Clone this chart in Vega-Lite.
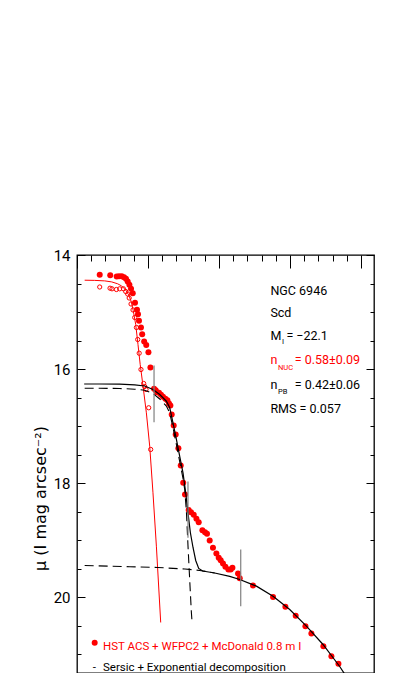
{
  "$schema": "https://vega.github.io/schema/vega-lite/v6.json",
  "width": 297,
  "height": 418,
  "autosize": {"type": "none"},
  "padding": {"left": 77, "top": 255, "right": 41, "bottom": 0},
  "background": "white",
  "config": {
    "view": {"stroke": "black", "strokeWidth": 1.3},
    "axis": {"grid": false, "domain": false, "tickColor": "black", "tickWidth": 1, "labelFlush": false, "labelOverlap": false}
  },
  "datasets": {
    "filled": [
      {"r":0.320,"mu":14.347},{"r":0.468,"mu":14.354},{"r":0.559,"mu":14.377},{"r":0.592,"mu":14.372},{"r":0.630,"mu":14.372},{"r":0.662,"mu":14.389},{"r":0.690,"mu":14.417},{"r":0.714,"mu":14.465},{"r":0.738,"mu":14.523},{"r":0.761,"mu":14.593},{"r":0.785,"mu":14.670},{"r":0.817,"mu":14.838},{"r":0.845,"mu":14.961},{"r":0.859,"mu":15.038},{"r":0.873,"mu":15.154},{"r":0.901,"mu":15.271},{"r":0.918,"mu":15.389},{"r":0.946,"mu":15.517},{"r":0.975,"mu":15.578},{"r":1.006,"mu":15.704},{"r":1.034,"mu":15.973},{"r":1.085,"mu":16.346},{"r":1.108,"mu":16.371},{"r":1.127,"mu":16.406},{"r":1.155,"mu":16.416},{"r":1.183,"mu":16.451},{"r":1.211,"mu":16.486},{"r":1.245,"mu":16.521},{"r":1.273,"mu":16.546},{"r":1.296,"mu":16.604},{"r":1.315,"mu":16.639},{"r":1.334,"mu":16.797},{"r":1.362,"mu":16.990},{"r":1.390,"mu":17.147},{"r":1.428,"mu":17.388},{"r":1.461,"mu":17.691},{"r":1.496,"mu":17.994},{"r":1.521,"mu":18.200},{"r":1.573,"mu":18.471},{"r":1.606,"mu":18.510},{"r":1.644,"mu":18.556},{"r":1.682,"mu":18.626},{"r":1.714,"mu":18.685},{"r":1.766,"mu":18.826},{"r":1.803,"mu":18.861},{"r":1.831,"mu":18.889},{"r":1.869,"mu":19.006},{"r":1.915,"mu":19.134},{"r":1.963,"mu":19.234},{"r":1.996,"mu":19.310},{"r":2.024,"mu":19.352},{"r":2.056,"mu":19.409},{"r":2.090,"mu":19.467},{"r":2.132,"mu":19.515},{"r":2.165,"mu":19.515},{"r":2.189,"mu":19.485},{"r":2.268,"mu":19.585},{"r":2.292,"mu":19.667},{"r":2.479,"mu":19.795},{"r":2.761,"mu":19.997},{"r":2.935,"mu":20.169},{"r":3.080,"mu":20.327},{"r":3.217,"mu":20.509},{"r":3.301,"mu":20.637},{"r":3.470,"mu":20.860},{"r":3.583,"mu":21.035},{"r":3.682,"mu":21.168}
    ],
    "open": [
      {"r":0.320,"mu":14.561},{"r":0.465,"mu":14.582},{"r":0.493,"mu":14.593},{"r":0.555,"mu":14.605},{"r":0.601,"mu":14.593},{"r":0.654,"mu":14.593},{"r":0.686,"mu":14.640},{"r":0.714,"mu":14.684},{"r":0.735,"mu":14.754},{"r":0.761,"mu":14.859},{"r":0.789,"mu":14.964},{"r":0.813,"mu":15.096},{"r":0.837,"mu":15.271},{"r":0.855,"mu":15.482},{"r":0.876,"mu":15.722},{"r":0.901,"mu":16.008},{"r":0.939,"mu":16.253},{"r":0.954,"mu":16.306},{"r":0.972,"mu":16.358},{"r":1.010,"mu":16.679},{"r":1.038,"mu":17.410}
    ],
    "nuc": [
      {"r":0.108,"mu":14.442},{"r":0.249,"mu":14.445},{"r":0.390,"mu":14.454},{"r":0.489,"mu":14.472},{"r":0.573,"mu":14.505},{"r":0.630,"mu":14.544},{"r":0.686,"mu":14.614},{"r":0.728,"mu":14.701},{"r":0.763,"mu":14.815},{"r":0.792,"mu":14.973},{"r":0.827,"mu":15.219},{"r":0.859,"mu":15.569},{"r":0.890,"mu":15.920},{"r":0.930,"mu":16.301},{"r":0.977,"mu":16.767},{"r":1.024,"mu":17.353},{"r":1.070,"mu":18.170},{"r":1.118,"mu":19.106},{"r":1.179,"mu":20.444}
    ],
    "total": [
      {"r":0.101,"mu":16.262},{"r":0.320,"mu":16.262},{"r":0.601,"mu":16.265},{"r":0.813,"mu":16.279},{"r":0.954,"mu":16.297},{"r":1.070,"mu":16.358},{"r":1.165,"mu":16.446},{"r":1.259,"mu":16.564},{"r":1.306,"mu":16.679},{"r":1.352,"mu":16.942},{"r":1.400,"mu":17.235},{"r":1.446,"mu":17.528},{"r":1.493,"mu":17.819},{"r":1.531,"mu":18.170},{"r":1.563,"mu":18.520},{"r":1.597,"mu":18.871},{"r":1.634,"mu":19.129},{"r":1.672,"mu":19.357},{"r":1.714,"mu":19.497},{"r":1.770,"mu":19.541},{"r":1.939,"mu":19.576},{"r":2.151,"mu":19.637},{"r":2.292,"mu":19.690},{"r":2.527,"mu":19.807},{"r":2.761,"mu":19.983},{"r":2.996,"mu":20.216},{"r":3.231,"mu":20.509},{"r":3.465,"mu":20.830},{"r":3.700,"mu":21.216},{"r":3.839,"mu":21.479}
    ],
    "bulge": [
      {"r":0.108,"mu":16.336},{"r":0.320,"mu":16.336},{"r":0.601,"mu":16.341},{"r":0.813,"mu":16.353},{"r":0.954,"mu":16.372},{"r":1.070,"mu":16.429},{"r":1.165,"mu":16.525},{"r":1.259,"mu":16.648},{"r":1.306,"mu":16.770},{"r":1.352,"mu":17.025},{"r":1.400,"mu":17.323},{"r":1.446,"mu":17.621},{"r":1.493,"mu":17.919},{"r":1.517,"mu":18.112},{"r":1.541,"mu":18.498},{"r":1.563,"mu":19.094},{"r":1.587,"mu":19.690},{"r":1.611,"mu":20.269},{"r":1.620,"mu":20.427}
    ],
    "disk": [
      {"r":0.108,"mu":19.445},{"r":0.432,"mu":19.455},{"r":0.742,"mu":19.466},{"r":1.137,"mu":19.480},{"r":1.518,"mu":19.506},{"r":1.730,"mu":19.532},{"r":1.939,"mu":19.576}
    ],
    "bars": [
      {"r":1.085,"mu":15.938,"mu2":16.932},{"r":1.563,"mu":17.970,"mu2":18.960},{"r":2.306,"mu":19.164,"mu2":20.158}
    ],
    "txtBlack": [
      {"r":2.724,"mu":14.693,"t":"NGC 6946"},{"r":2.724,"mu":15.084,"t":"Scd"},{"r":2.724,"mu":15.482,"t":"M"},{"r":2.949,"mu":15.482,"t":"= −22.1"},{"r":2.724,"mu":16.346,"t":"n"},{"r":3.066,"mu":16.346,"t":"= 0.42±0.06"},{"r":2.724,"mu":16.770,"t":"RMS = 0.057"}
    ],
    "subBlack": [
      {"r":2.887,"mu":15.552,"t":"I"},{"r":2.831,"mu":16.446,"t":"PB"}
    ],
    "txtRed": [
      {"r":2.724,"mu":15.903,"t":"n"},{"r":3.066,"mu":15.903,"t":"= 0.58±0.09"}
    ],
    "subRed": [
      {"r":2.831,"mu":16.008,"t":"NUC"}
    ],
    "legRed": [{"r":0.366,"mu":20.930,"t":"HST ACS + WFPC2 + McDonald 0.8 m I"}],
    "legDot": [{"r":0.249,"mu":20.800}],
    "legBlack": [{"r":0.221,"mu":21.298,"t":"-"},{"r":0.366,"mu":21.298,"t":"Sersic + Exponential decomposition"}]
  },
  "resolve": {"axis": {"x": "independent", "y": "independent"}},
  "layer": [
    {
      "data": {"name": "filled"},
      "mark": {"type": "point", "filled": true, "shape": "circle", "size": 36, "color": "#ff0000", "opacity": 1},
      "encoding": {
        "x": {"field": "r", "type": "quantitative", "scale": {"domain": [0, 4.183], "nice": false, "zero": false},
          "axis": {"orient": "top", "values": [0, 1, 2, 3, 4], "tickSize": -13, "labels": false, "title": null}},
        "y": {"field": "mu", "type": "quantitative", "scale": {"domain": [14, 21.33], "reverse": true, "nice": false, "zero": false},
          "axis": {"orient": "left", "values": [14, 16, 18, 20], "ticks": false, "tickSize": 0, "labelPadding": 7,
            "labelFont": "Roboto", "labelFontSize": 15, "labelColor": "black", "labelBaseline": "middle",
            "title": "μ  (I  mag  arcsec⁻²)", "titleFont": "DejaVu Sans", "titleFontSize": 16, "titleFontWeight": "normal",
            "titleColor": "black", "titleX": -32, "titleY": 243, "titleBaseline": "alphabetic", "titleAngle": 270, "titleAlign": "center"}}
      }
    },
    {
      "data": {"name": "open"},
      "mark": {"type": "point", "filled": false, "shape": "circle", "size": 18, "strokeWidth": 1, "color": "#ff0000", "opacity": 1},
      "encoding": {
        "x": {"field": "r", "type": "quantitative",
          "axis": {"orient": "top", "values": [0.2, 0.4, 0.6, 0.8, 1.2, 1.4, 1.6, 1.8, 2.2, 2.4, 2.6, 2.8, 3.2, 3.4, 3.6, 3.8], "tickSize": -6, "labels": false, "title": null}},
        "y": {"field": "mu", "type": "quantitative",
          "axis": {"orient": "left", "values": [14, 16, 18, 20], "tickSize": -8, "labels": false, "title": null}}
      }
    },
    {
      "data": {"name": "nuc"},
      "mark": {"type": "line", "color": "#ff0000", "strokeWidth": 1, "clip": true},
      "encoding": {
        "x": {"field": "r", "type": "quantitative", "axis": null},
        "y": {"field": "mu", "type": "quantitative",
          "axis": {"orient": "left", "values": [14.5, 15, 15.5, 16.5, 17, 17.5, 18.5, 19, 19.5, 20.5, 21], "tickSize": -4, "labels": false, "title": null}}
      }
    },
    {
      "data": {"name": "total"},
      "mark": {"type": "line", "color": "black", "strokeWidth": 1.2, "clip": true},
      "encoding": {
        "x": {"field": "r", "type": "quantitative", "axis": null},
        "y": {"field": "mu", "type": "quantitative",
          "axis": {"orient": "right", "values": [14, 16, 18, 20], "tickSize": -8, "labels": false, "title": null}}
      }
    },
    {
      "data": {"name": "bulge"},
      "mark": {"type": "line", "color": "black", "strokeWidth": 1.1, "strokeDash": [9, 5], "clip": true},
      "encoding": {
        "x": {"field": "r", "type": "quantitative", "axis": null},
        "y": {"field": "mu", "type": "quantitative",
          "axis": {"orient": "right", "values": [14.5, 15, 15.5, 16.5, 17, 17.5, 18.5, 19, 19.5, 20.5, 21], "tickSize": -4, "labels": false, "title": null}}
      }
    },
    {
      "data": {"name": "disk"},
      "mark": {"type": "line", "color": "black", "strokeWidth": 1.1, "strokeDash": [9, 5], "clip": true},
      "encoding": {
        "x": {"field": "r", "type": "quantitative", "axis": null},
        "y": {"field": "mu", "type": "quantitative", "axis": null}
      }
    },
    {
      "data": {"name": "bars"},
      "mark": {"type": "rule", "color": "#808080", "strokeWidth": 1.2},
      "encoding": {
        "x": {"field": "r", "type": "quantitative", "axis": null},
        "y": {"field": "mu", "type": "quantitative", "axis": null},
        "y2": {"field": "mu2"}
      }
    },
    {
      "data": {"name": "txtBlack"},
      "mark": {"type": "text", "align": "left", "baseline": "alphabetic", "font": "Roboto", "fontSize": 12.5, "color": "black"},
      "encoding": {
        "x": {"field": "r", "type": "quantitative", "axis": null},
        "y": {"field": "mu", "type": "quantitative", "axis": null},
        "text": {"field": "t"}
      }
    },
    {
      "data": {"name": "subBlack"},
      "mark": {"type": "text", "align": "left", "baseline": "alphabetic", "font": "Roboto", "fontSize": 7.5, "color": "black"},
      "encoding": {
        "x": {"field": "r", "type": "quantitative", "axis": null},
        "y": {"field": "mu", "type": "quantitative", "axis": null},
        "text": {"field": "t"}
      }
    },
    {
      "data": {"name": "txtRed"},
      "mark": {"type": "text", "align": "left", "baseline": "alphabetic", "font": "Roboto", "fontSize": 12.5, "color": "#ff0000"},
      "encoding": {
        "x": {"field": "r", "type": "quantitative", "axis": null},
        "y": {"field": "mu", "type": "quantitative", "axis": null},
        "text": {"field": "t"}
      }
    },
    {
      "data": {"name": "subRed"},
      "mark": {"type": "text", "align": "left", "baseline": "alphabetic", "font": "Roboto", "fontSize": 7.5, "color": "#ff0000"},
      "encoding": {
        "x": {"field": "r", "type": "quantitative", "axis": null},
        "y": {"field": "mu", "type": "quantitative", "axis": null},
        "text": {"field": "t"}
      }
    },
    {
      "data": {"name": "legDot"},
      "mark": {"type": "point", "filled": true, "shape": "circle", "size": 36, "color": "#ff0000", "opacity": 1},
      "encoding": {
        "x": {"field": "r", "type": "quantitative", "axis": null},
        "y": {"field": "mu", "type": "quantitative", "axis": null}
      }
    },
    {
      "data": {"name": "legRed"},
      "mark": {"type": "text", "align": "left", "baseline": "alphabetic", "font": "Roboto", "fontSize": 11.5, "color": "#ff0000"},
      "encoding": {
        "x": {"field": "r", "type": "quantitative", "axis": null},
        "y": {"field": "mu", "type": "quantitative", "axis": null},
        "text": {"field": "t"}
      }
    },
    {
      "data": {"name": "legBlack"},
      "mark": {"type": "text", "align": "left", "baseline": "alphabetic", "font": "Roboto", "fontSize": 11.5, "color": "black"},
      "encoding": {
        "x": {"field": "r", "type": "quantitative", "axis": null},
        "y": {"field": "mu", "type": "quantitative", "axis": null},
        "text": {"field": "t"}
      }
    }
  ]
}
